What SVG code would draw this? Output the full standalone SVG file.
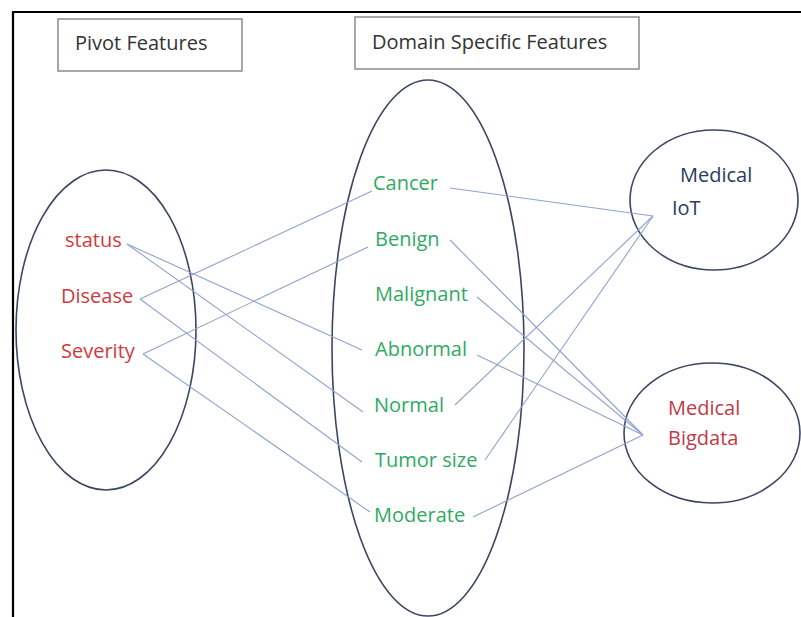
<svg xmlns="http://www.w3.org/2000/svg" width="801" height="617" viewBox="0 0 801 617">
<style>
text{font-family:"Open Sans","Noto Sans","Liberation Sans",sans-serif;font-size:20px}
.hdr{fill:#333333}
.box{fill:#ffffff;stroke:#8a8a8a;stroke-width:1.5}
.ell{fill:none;stroke:#3b4662;stroke-width:1.6}
.red{fill:#d0393f}
.grn{fill:#2faa63}
.navy{fill:#2c3a5e}
.bred{fill:#c03a47}
.con line{stroke:#8fa3cf;stroke-width:1.1}
</style>
<rect width="801" height="617" fill="#ffffff"/>
<g id="frame"><path d="M13 617 V12 H801" fill="none" stroke="#000" stroke-width="2.2"/></g>
<g id="pivot-header"><rect class="box" x="58" y="19" width="184" height="52"/><text class="hdr" x="75" y="50">Pivot Features</text></g>
<g id="domain-header"><rect class="box" x="355" y="17" width="284" height="52"/><text class="hdr" x="372" y="49">Domain Specific Features</text></g>
<g id="pivot-set"><ellipse class="ell" cx="106" cy="330" rx="90" ry="160"/>
<text class="red" x="65" y="247">status</text>
<text class="red" x="61" y="303">Disease</text>
<text class="red" x="61" y="358">Severity</text></g>
<g id="domain-set"><ellipse class="ell" cx="428" cy="348" rx="96" ry="268"/>
<text class="grn" x="373" y="190">Cancer</text>
<text class="grn" x="375" y="246">Benign</text>
<text class="grn" x="375" y="301">Malignant</text>
<text class="grn" x="375" y="356">Abnormal</text>
<text class="grn" x="374" y="412">Normal</text>
<text class="grn" x="375" y="467">Tumor size</text>
<text class="grn" x="374" y="522">Moderate</text></g>
<g id="medical-iot"><ellipse class="ell" cx="714" cy="200" rx="84" ry="70"/>
<text class="navy" x="680" y="182">Medical</text>
<text class="navy" x="672" y="215">IoT</text></g>
<g id="medical-bigdata"><ellipse class="ell" cx="712" cy="433" rx="88" ry="70"/>
<text class="bred" x="668" y="415">Medical</text>
<text class="bred" x="668" y="445">Bigdata</text></g>
<g id="connectors" class="con">
<line x1="127" y1="244" x2="362" y2="350"/>
<line x1="127" y1="244" x2="363" y2="412"/>
<line x1="140" y1="299" x2="372" y2="191"/>
<line x1="140" y1="299" x2="362" y2="462"/>
<line x1="143" y1="354" x2="368" y2="247"/>
<line x1="143" y1="354" x2="370" y2="512"/>
<line x1="450" y1="188" x2="653" y2="216"/>
<line x1="455" y1="405" x2="653" y2="216"/>
<line x1="485" y1="460" x2="653" y2="216"/>
<line x1="450" y1="240" x2="643" y2="435"/>
<line x1="477" y1="297" x2="643" y2="435"/>
<line x1="477" y1="355" x2="643" y2="435"/>
<line x1="473" y1="517" x2="643" y2="435"/>
</g>
</svg>
